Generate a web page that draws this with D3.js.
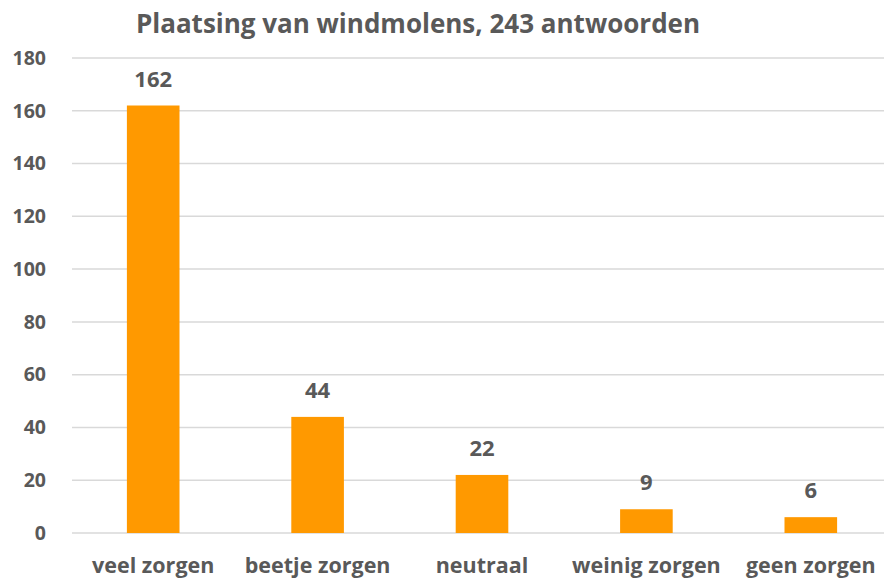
<!DOCTYPE html>
<html>
<head>
<meta charset="utf-8">
<script src="https://cdn.jsdelivr.net/npm/d3@7"></script>
<style>
  body { margin: 0; background: #fff; }
  text { font-family: "Open Sans", sans-serif; font-weight: bold; fill: #595959; }
</style>
</head>
<body>
<div class="chart"></div>
<script>
const width = 885;
const height = 583;

const title = "Plaatsing van windmolens, 243 antwoorden";
const categories = ["veel zorgen", "beetje zorgen", "neutraal", "weinig zorgen", "geen zorgen"];
const counts = [162, 44, 22, 9, 6];
const yTicks = [0, 20, 40, 60, 80, 100, 120, 140, 160, 180];

const margin = { top: 58, right: 1, bottom: 50, left: 72 };

let svg = d3.select(".chart")
    .append("svg")
    .attr("width", width)
    .attr("height", height);

let xScale = d3.scaleBand()
    .domain(categories)
    .range([71, 893])
    .paddingInner(0.68)
    .paddingOuter(0.34);

let yScale = d3.scaleLinear()
    .domain([0, 180])
    .range([height - margin.bottom, margin.top]);

// gridlines
svg.append("g")
    .selectAll("line")
    .data(yTicks)
    .enter()
    .append("line")
    .attr("x1", margin.left)
    .attr("x2", width - margin.right)
    .attr("y1", d => yScale(d))
    .attr("y2", d => yScale(d))
    .attr("stroke", "#d9d9d9")
    .attr("stroke-width", 1.5);

// y axis labels
let yAxis = d3.axisLeft(yScale).tickValues(yTicks).tickSize(0).tickPadding(0);
let yg = svg.append("g")
    .attr("transform", "translate(46,0)")
    .call(yAxis);
yg.select(".domain").remove();
yg.selectAll("text")
    .attr("font-size", 19.5)
    .attr("font-family", null)
    .attr("fill", "#595959");

// bars
svg.append("g")
    .selectAll("rect")
    .data(counts)
    .enter()
    .append("rect")
    .attr("x", (d, i) => xScale(categories[i]))
    .attr("width", xScale.bandwidth())
    .attr("y", d => yScale(d))
    .attr("height", d => yScale(0) - yScale(d))
    .attr("fill", "#ff9900");

// value labels
svg.append("g")
    .selectAll("text")
    .data(counts)
    .enter()
    .append("text")
    .text(d => d)
    .attr("x", (d, i) => xScale(categories[i]) + xScale.bandwidth() / 2)
    .attr("y", d => yScale(d) - 19)
    .attr("text-anchor", "middle")
    .attr("font-size", 22);

// x axis labels
let xAxis = d3.axisBottom(xScale).tickSize(0).tickPadding(0);
let xg = svg.append("g")
    .attr("transform", "translate(0," + (height - 10) + ")")
    .call(xAxis);
xg.select(".domain").remove();
xg.selectAll("text")
    .attr("dy", 0)
    .attr("font-size", 21.5)
    .attr("font-family", null)
    .attr("fill", "#595959");

// title
svg.append("text")
    .text(title)
    .attr("x", 418)
    .attr("y", 33)
    .attr("text-anchor", "middle")
    .attr("font-size", 26);
</script>
</body>
</html>
